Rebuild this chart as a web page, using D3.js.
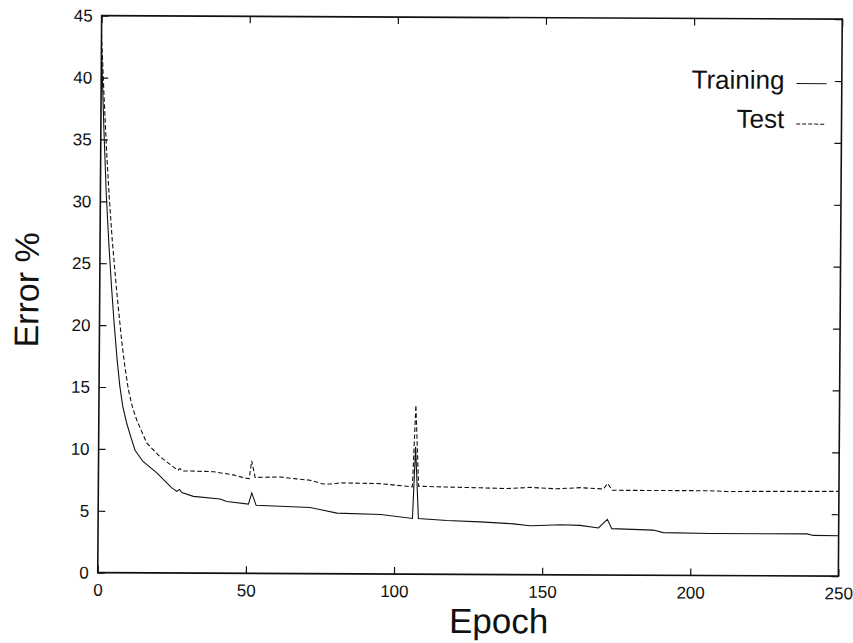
<!DOCTYPE html>
<html>
<head>
<meta charset="utf-8">
<script src="https://cdn.jsdelivr.net/npm/d3@7/dist/d3.min.js"></script>
<style>
  html, body { margin: 0; padding: 0; background: #fff; }
  svg { display: block; }
  text { font-family: "Liberation Sans", Arial, Helvetica, sans-serif; fill: #111; }
</style>
</head>
<body>
<svg id="chart" width="853" height="643"></svg>
<script>
// ---- data ----
const trainEpoch = [0, 1, 2, 3, 4, 5, 6, 7, 8, 9.4, 10.8, 12.3, 15, 19.6, 24.7, 26.5, 27.4, 28.2, 32.1, 41.1, 43.4, 50.7, 51.8, 53.3, 71.5, 75.6, 80.6, 95.4, 106.1, 107, 108.1, 117.7, 129, 140.2, 145.8, 151.5, 155.9, 162.7, 168.9, 171.9, 173.4, 187.4, 190.8, 206.6, 239.3, 241.5, 250];
const trainErr   = [42.5, 36, 30.5, 26.5, 23, 20, 17.3, 15.1, 13.5, 12.1, 11, 9.9, 9.0, 8.1, 6.9, 6.6, 6.75, 6.5, 6.2, 6.0, 5.8, 5.6, 6.5, 5.5, 5.35, 5.15, 4.9, 4.8, 4.5, 10.3, 4.5, 4.35, 4.25, 4.1, 3.95, 4.0, 4.05, 4.0, 3.8, 4.5, 3.75, 3.65, 3.45, 3.4, 3.4, 3.28, 3.26];

const testEpoch = [0, 1, 2, 3, 4.1, 5.7, 7.5, 8.7, 9.9, 11.3, 12.8, 16.2, 20.7, 26.8, 27.5, 28.3, 30.9, 38.8, 45.5, 49.5, 50.9, 51.7, 52.9, 61.3, 66.9, 71.4, 75.9, 79.3, 81.6, 95.1, 106, 107, 108.1, 117.7, 129, 138, 145.8, 154.8, 162.6, 170.5, 171.9, 173.5, 189.3, 206.5, 212.1, 250];
const testErr   = [43.5, 38.5, 34, 30.3, 26.9, 22.8, 18.8, 16.6, 14.8, 13.4, 12.35, 10.5, 9.4, 8.3, 8.45, 8.25, 8.25, 8.2, 7.95, 7.7, 7.65, 9.1, 7.75, 7.8, 7.65, 7.55, 7.25, 7.25, 7.35, 7.3, 7.05, 13.65, 7.1, 7.05, 7.0, 6.95, 7.05, 6.95, 7.05, 6.95, 7.4, 6.85, 6.85, 6.85, 6.8, 6.85];

const xTicks = [0, 50, 100, 150, 200, 250];
const yTicks = [0, 5, 10, 15, 20, 25, 30, 35, 40, 45];
const seriesNames = ["Training", "Test"];
const xTitle = "Epoch";
const yTitle = "Error %";

// ---- layout ----
const L = 99.7, R = 840.3, T = 17.4, B = 574.4;

const svg = d3.select("#chart");
svg.append("rect").attr("width", 853).attr("height", 643).attr("fill", "#fff");

// the scanned original is very slightly skewed
const g = svg.append("g").attr("transform", "matrix(1,0.0047,-0.007,1,2.07,-2.21)");

const x = d3.scaleLinear().domain([0, 250]).range([L, R]);
const y = d3.scaleLinear().domain([0, 45]).range([B, T]);

const tick = 7;

const ax = g.append("g").attr("transform", `translate(0,${B})`)
  .call(d3.axisBottom(x).tickValues(xTicks).tickSizeInner(-tick).tickSizeOuter(0).tickPadding(11).tickFormat(d3.format("d")));
const ay = g.append("g").attr("transform", `translate(${L},0)`)
  .call(d3.axisLeft(y).tickValues(yTicks).tickSizeInner(-tick).tickSizeOuter(0).tickPadding(9).tickFormat(d3.format("d")));
const at = g.append("g").attr("transform", `translate(0,${T})`)
  .call(d3.axisTop(x).tickValues(xTicks).tickSizeInner(-tick).tickSizeOuter(0).tickFormat(""));
const ar = g.append("g").attr("transform", `translate(${R},0)`)
  .call(d3.axisRight(y).tickValues(yTicks).tickSizeInner(-tick).tickSizeOuter(0).tickFormat(""));

[ax, ay, at, ar].forEach(a => {
  a.select(".domain").remove();
  a.selectAll(".tick line").attr("stroke", "#111").attr("stroke-width", 1.2);
  a.selectAll(".tick text").attr("font-size", 17).attr("fill", "#111")
    .attr("font-family", "'Liberation Sans', Arial, Helvetica, sans-serif");
});

// frame
g.append("rect").attr("x", L).attr("y", T).attr("width", R - L).attr("height", B - T)
  .attr("fill", "none").attr("stroke", "#111").attr("stroke-width", 1.6);

// lines
const lineTrain = d3.line().x((d, i) => x(trainEpoch[i])).y(d => y(d));
const lineTest = d3.line().x((d, i) => x(testEpoch[i])).y(d => y(d));

g.append("path").attr("d", lineTest(testErr)).attr("fill", "none")
  .attr("stroke", "#111").attr("stroke-width", 1.1).attr("stroke-dasharray", "4.5,2.5");
g.append("path").attr("d", lineTrain(trainErr)).attr("fill", "none")
  .attr("stroke", "#111").attr("stroke-width", 1.1);

// legend
const leg = g.append("g");
const legRows = [{name: seriesNames[0], dash: null, yb: 87.5, yl: 82}, {name: seriesNames[1], dash: "4,2", yb: 126.5, yl: 122.5}];
legRows.forEach(r => {
  leg.append("text").attr("x", 783).attr("y", r.yb).attr("text-anchor", "end")
    .attr("font-size", 26).text(r.name);
  leg.append("line").attr("x1", 795).attr("x2", 825).attr("y1", r.yl).attr("y2", r.yl)
    .attr("stroke", "#111").attr("stroke-width", 1).attr("stroke-dasharray", r.dash);
});

// axis titles
g.append("text").attr("x", 501).attr("y", 633).attr("text-anchor", "middle")
  .attr("font-size", 35).text(xTitle);
g.append("text").attr("transform", "translate(38.5,292) rotate(-90)")
  .attr("text-anchor", "middle").attr("font-size", 34).text(yTitle);
</script>
</body>
</html>
